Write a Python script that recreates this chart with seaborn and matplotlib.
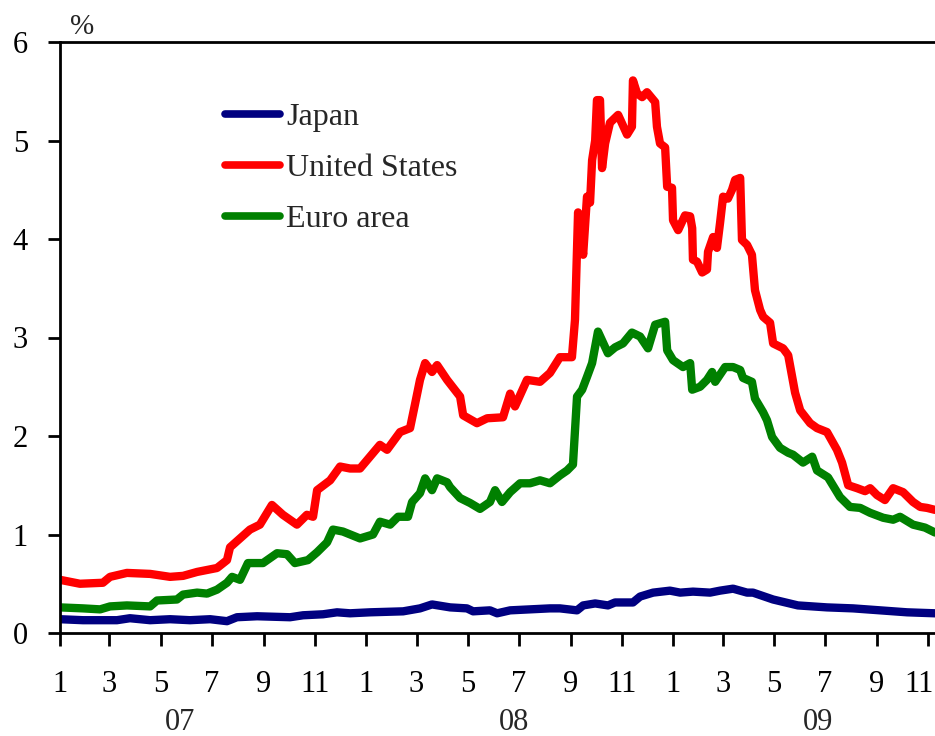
import matplotlib
matplotlib.use('Agg')
from matplotlib import pyplot as plt
import matplotlib.dates as mdates
import matplotlib.transforms as mtransforms
from matplotlib.ticker import FuncFormatter
import pandas as pd
import numpy as np
import seaborn as sns

sns.set_theme(style='white')
plt.rcParams['font.family'] = ['Liberation Serif', 'DejaVu Serif']

#################################################################################
# data, x in months since 1 Jan 2007, y in %

us_months = [0, 0.78, 1.68, 1.96, 2.62, 3.53, 4.31, 4.82, 5.37, 6.15, 6.54, 6.66,
             7.05, 7.44, 7.83, 8.30, 8.73, 9.28, 9.67, 9.91, 10.07, 10.58, 10.97,
             11.36, 11.75, 12.14, 12.53, 12.81, 13.32, 13.71, 13.91, 14.10, 14.30,
             14.57, 14.77, 15.16, 15.67, 15.79, 16.33, 16.73, 17.35, 17.63, 17.82,
             18.29, 18.80, 19.19, 19.58, 20.05, 20.17, 20.29, 20.49, 20.64, 20.76,
             20.84, 20.96, 21.03, 21.15, 21.23, 21.35, 21.54, 21.86, 22.21, 22.40,
             22.44, 22.60, 22.80, 22.99, 23.31, 23.38, 23.50, 23.70, 23.78, 23.97,
             24.01, 24.21, 24.48, 24.68, 24.76, 24.79, 24.95, 25.15, 25.34, 25.38,
             25.58, 25.73, 25.85, 25.97, 26.16, 26.32, 26.44, 26.64, 26.71, 26.91,
             27.10, 27.22, 27.42, 27.54, 27.81, 27.93, 28.32, 28.52, 28.79, 28.99,
             29.38, 29.65, 30.04, 30.43, 30.63, 30.87, 31.22, 31.53, 31.73, 32.00,
             32.31, 32.63, 33.02, 33.41, 33.69, 33.96, 34.27]
us_values = [0.54, 0.50, 0.51, 0.57, 0.61, 0.60, 0.57, 0.58, 0.62, 0.66, 0.74, 0.87,
             0.96, 1.05, 1.10, 1.30, 1.20, 1.10, 1.20, 1.18, 1.45, 1.55, 1.69,
             1.67, 1.67, 1.79, 1.91, 1.86, 2.04, 2.08, 2.33, 2.57, 2.74,
             2.65, 2.72, 2.57, 2.40, 2.21, 2.13, 2.18, 2.19, 2.43, 2.30,
             2.57, 2.55, 2.64, 2.80, 2.80, 3.18, 4.27, 3.84, 4.43, 4.37,
             4.80, 5.00, 5.41, 5.41, 4.72, 4.97, 5.18, 5.26, 5.06, 5.14,
             5.61, 5.48, 5.44, 5.49, 5.39, 5.14, 4.97, 4.93, 4.53, 4.52,
             4.19, 4.09, 4.24, 4.23, 4.11, 3.79, 3.77, 3.66, 3.69, 3.87,
             4.02, 3.91, 4.16, 4.43, 4.41, 4.50, 4.60, 4.62, 3.99, 3.94,
             3.84, 3.48, 3.28, 3.21, 3.15, 2.94, 2.89, 2.82, 2.44, 2.26,
             2.13, 2.08, 2.04, 1.86, 1.73, 1.50, 1.47, 1.44, 1.47, 1.40,
             1.35, 1.47, 1.43, 1.33, 1.28, 1.27, 1.25]

euro_months = [0, 0.90, 1.57, 1.96, 2.62, 3.53, 3.80, 4.58, 4.82, 5.37, 5.76, 6.15,
               6.54, 6.74, 7.05, 7.36, 7.95, 8.50, 8.89, 9.20, 9.71, 10.07, 10.46,
               10.69, 11.08, 11.75, 12.26, 12.53, 12.93, 13.24, 13.63, 13.79, 14.10,
               14.30, 14.57, 14.77, 15.16, 15.28, 15.67, 16.06, 16.45, 16.84, 17.04,
               17.31, 17.63, 18.02, 18.41, 18.80, 19.19, 19.58, 19.86, 20.09, 20.25,
               20.45, 20.64, 20.84, 21.07, 21.23, 21.46, 21.74, 22.05, 22.40, 22.72,
               23.03, 23.31, 23.70, 23.78, 24.01, 24.40, 24.68, 24.76, 25.07, 25.34,
               25.54, 25.66, 26.05, 26.36, 26.64, 26.75, 27.10, 27.22, 27.54, 27.69,
               27.89, 28.20, 28.52, 28.71, 29.10, 29.46, 29.65, 30.08, 30.55, 30.94,
               31.34, 31.73, 32.24, 32.63, 32.90, 33.41, 33.88, 34.27]
euro_values = [0.26, 0.25, 0.24, 0.27, 0.28, 0.27, 0.33, 0.34, 0.39, 0.41, 0.40, 0.44,
               0.51, 0.57, 0.54, 0.71, 0.71, 0.81, 0.80, 0.71, 0.74, 0.82, 0.92,
               1.05, 1.03, 0.96, 1.00, 1.13, 1.10, 1.18, 1.18, 1.33, 1.42,
               1.57, 1.45, 1.57, 1.53, 1.48, 1.37, 1.32, 1.26, 1.33, 1.45,
               1.33, 1.43, 1.52, 1.52, 1.55, 1.52, 1.60, 1.65, 1.71, 2.40,
               2.47, 2.60, 2.74, 3.06, 2.97, 2.84, 2.90, 2.94, 3.05, 3.01,
               2.89, 3.13, 3.16, 2.87, 2.77, 2.70, 2.74, 2.47, 2.50, 2.57,
               2.65, 2.55, 2.70, 2.70, 2.67, 2.59, 2.55, 2.38, 2.24, 2.16,
               1.99, 1.88, 1.83, 1.81, 1.73, 1.79, 1.65, 1.58, 1.38, 1.28,
               1.27, 1.22, 1.17, 1.15, 1.18, 1.10, 1.07, 1.02]

japan_months = [0, 0.90, 2.23, 2.74, 3.53, 4.31, 5.09, 5.88, 6.54, 6.93, 7.72, 9.01,
                9.52, 10.30, 10.85, 11.36, 12.14, 13.44, 14.10, 14.57, 15.28, 15.94,
                16.18, 16.84, 17.12, 17.63, 18.41, 19.19, 19.58, 20.25, 20.49, 20.96,
                21.46, 21.74, 22.44, 22.72, 23.23, 23.89, 24.29, 24.79, 25.46, 25.85,
                26.36, 26.91, 27.14, 27.93, 28.90, 30.04, 31.06, 32.12, 33.18, 34.27]
japan_values = [0.14, 0.13, 0.13, 0.15, 0.13, 0.14, 0.13, 0.14, 0.12, 0.16, 0.17, 0.16,
                0.18, 0.19, 0.21, 0.20, 0.21, 0.22, 0.25, 0.29, 0.26, 0.25,
                0.22, 0.23, 0.20, 0.23, 0.24, 0.25, 0.25, 0.23, 0.28, 0.30,
                0.28, 0.31, 0.31, 0.37, 0.41, 0.43, 0.41, 0.42, 0.41, 0.43,
                0.45, 0.41, 0.41, 0.34, 0.28, 0.26, 0.25, 0.23, 0.21, 0.20]

series_names = ['Japan', 'United States', 'Euro area']
series_colors = ['#000080', '#FF0000', '#008000']
year_labels = ['07', '08', '09']
year_label_months = [4.7, 17.8, 29.7]

#################################################################################
# long form table

start = pd.Timestamp('2007-01-01')

def to_dates(months):
    return start + pd.to_timedelta(np.array(months) * 30.4375, unit='D')

frames = []
for name, m, v in [('Japan', japan_months, japan_values),
                   ('United States', us_months, us_values),
                   ('Euro area', euro_months, euro_values)]:
    frames.append(pd.DataFrame({'date': to_dates(m), 'value': v, 'series': name}))
df = pd.concat(frames, ignore_index=True)

#################################################################################
# plot

fig = plt.figure(figsize=(9.35, 7.36), dpi=100)
ax = fig.add_axes([60/935, 1-633/736, 875/935, 591/736])

sns.lineplot(data=df, x='date', y='value', hue='series', hue_order=series_names,
             palette=series_colors, estimator=None, sort=True, linewidth=6,
             ax=ax)
for line in ax.get_lines():
    line.set_solid_joinstyle('round')
    line.set_solid_capstyle('round')

ax.set_xlim(start, to_dates([34.27])[0])
ax.set_ylim(0, 6)
ax.set_yticks(range(0, 7))
ax.set_xlabel('')
ax.set_ylabel('')

ax.xaxis.set_major_locator(mdates.MonthLocator(bymonth=[1, 3, 5, 7, 9, 11]))
ax.xaxis.set_major_formatter(FuncFormatter(lambda x, p: str(mdates.num2date(x).month)))

ax.tick_params(axis='x', direction='out', length=9, width=2, pad=17.5,
               labelsize=22, bottom=True, colors='black')
ax.tick_params(axis='y', direction='out', length=9, width=2, pad=14,
               labelsize=22, left=True, colors='black')

for side in ['left', 'bottom', 'top']:
    ax.spines[side].set_linewidth(2)
    ax.spines[side].set_color('black')
ax.spines['right'].set_visible(False)

# nudge the last month label so it stays inside the figure
fig.canvas.draw()
last_lab = ax.get_xticklabels()[-1]
last_lab.set_transform(last_lab.get_transform() +
                       mtransforms.ScaledTranslation(-9/100, 0, fig.dpi_scale_trans))

for lab, m in zip(year_labels, year_label_months):
    ax.text(to_dates([m])[0], -0.151, lab, transform=ax.get_xaxis_transform(),
            ha='center', va='center', fontsize=22)

ax.text(0.025, 1.026, '%', transform=ax.transAxes, ha='center', va='center',
        fontsize=21)

leg = ax.legend(loc='upper left', bbox_to_anchor=(0.189, 0.897), frameon=False,
                fontsize=23, handlelength=1.7, handletextpad=0.2,
                labelspacing=0.68, borderpad=0, borderaxespad=0)
for line in leg.get_lines():
    line.set_linewidth(5.5)
    line.set_solid_capstyle('round')

plt.savefig('out.png', dpi=100)
